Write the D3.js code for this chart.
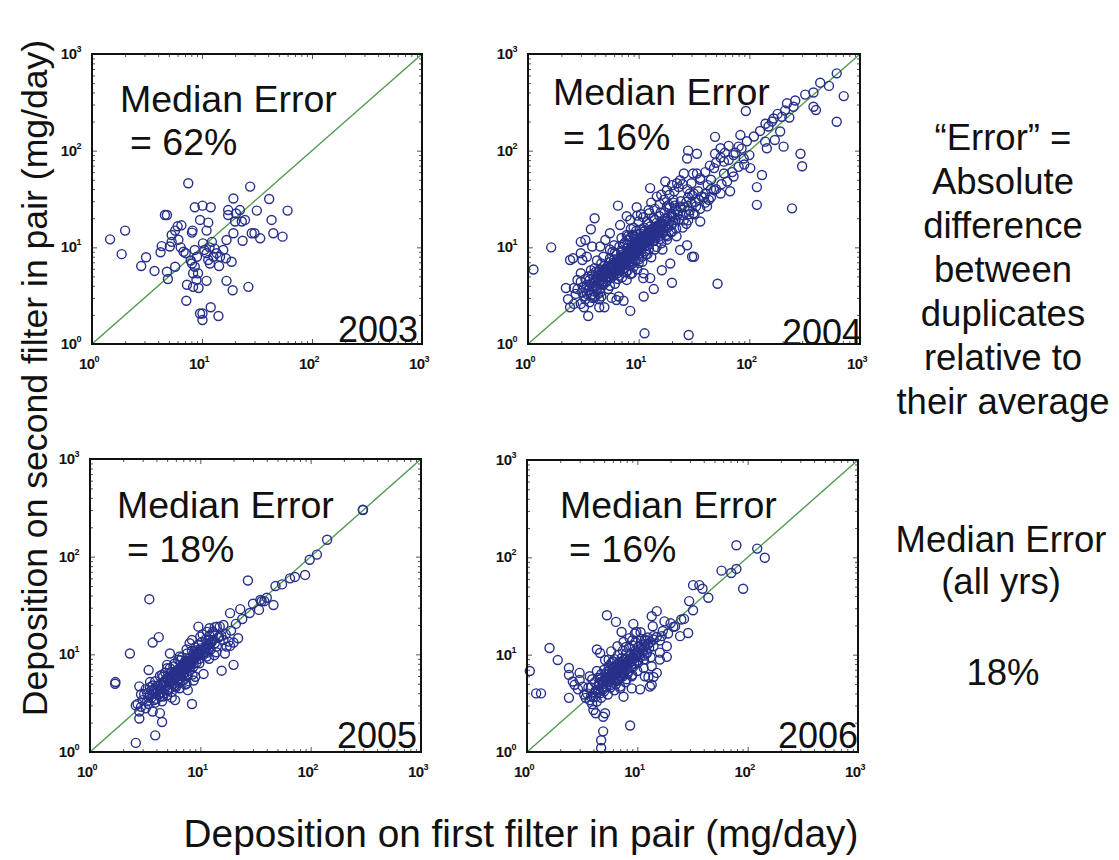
<!DOCTYPE html>
<html>
<head>
<meta charset="utf-8">
<script src="https://cdn.jsdelivr.net/npm/d3@7"></script>
<style>
  body { margin: 0; background: #fff; }
  text { font-family: "Liberation Sans", Arial, sans-serif; fill: #111; }
</style>
</head>
<body>
<svg id="chart" width="1119" height="860"></svg>
<script>
"use strict";

// ---- data (mg/day) ----
const years = ["2003", "2004", "2005", "2006"];
const medianErrors = ["62%", "16%", "18%", "16%"];
const majorTicks = [1, 10, 100, 1000];
const tickExponents = ["0", "1", "2", "3"];

const pts2003 = [
  [1.46,12.1],[2.0,14.9],[1.86,8.5],[2.8,6.4],[3.1,7.9],[3.7,5.7],[4.8,5.6],[4.9,4.7],[4.2,8.9],[4.3,10.3],
  [4.6,21.6],[4.8,21.6],[5.3,11.4],[5.7,14.9],[6.5,16.9],[6.0,16.5],[6.4,10],[6.8,9.0],[5.7,6.3],[7.5,46],
  [8.2,14.9],[8.6,26],[9.6,19.2],[10.1,27],[12,26],[11.4,18],[11,14.9],[8.1,14.2],[8.1,6.8],[8.6,6.3],
  [8.3,5.4],[8.9,4.6],[7.3,4.1],[7.2,2.8],[8.3,3.9],[9.3,3.8],[11,4.5],[9.6,2.07],[10.1,1.77],[10.1,2.07],
  [12,2.4],[14.1,1.95],[10.2,11],[10.5,9.4],[11,8.7],[11.7,10],[12.3,11.4],[12.7,8],[11.8,6.8],[11.4,7.4],
  [13,9.7],[13.6,8.7],[14.6,8],[14.3,6.4],[15.6,9.4],[16.7,11.9],[16.5,7.7],[18.6,7.1],[16.7,4.5],[19,3.6],
  [17.3,21.6],[17.3,24.3],[19.3,32],[20.4,22.4],[22.1,24.3],[20,18.5],[23,18.5],[24.6,19.2],[27.4,42.5],[23.4,11.7],
  [28.3,14],[26.4,3.9],[31.5,24],[30,14],[33.8,12.4],[40.8,31.6],[42.9,19.2],[44.5,14],[54,12.9],[60,24],
  [7.1,8.7],[5.3,13.4],[6.1,12],[5.1,10.2],[8.6,9.4],[9.0,8],[7.9,7.3],[9.2,5.4],[19.3,14]
];

const pts2004 = [
  // outliers and upper tail
  [1.12,5.9],[1.62,10],[2.2,3.8],[2.3,2.9],[2.4,2.4],[2.4,7.4],[2.55,7.7],[3.0,5.4],[3.0,11.4],[3.5,1.95],
  [4.0,20],[3.7,15.4],[3.3,11.9],[4.4,2.4],[4.9,2.4],[6.3,2.85],[6.5,27],[7.8,21],[8.4,2.2],[7.3,2.8],
  [9.7,21.3],[11.3,1.29],[11,4.8],[11.1,3.1],[13.7,3.7],[12.7,41],[20,4.3],[28.3,1.24],[31.6,8],[27.4,10.5],
  [51.6,4.2],[17.4,48],[22.2,46],[27.4,83],[33.6,93],[49,93],[65,112],[83,145],[93,257],[117,27.5],
  [117,42],[102,66],[130,56],[144,106],[170,129],[190,158],[204,110],[243,25.3],[290,93],[300,69],
  [251,285],[380,400],[400,263],[437,505],[524,468],[616,631],[713,367],[616,199],[380,285],[219,309],
  [149,178],[166,215],[197,224],[139,124],[89,83],[80,110],[72,90],[59,77],[48,66],[59,58],
  [72,54],[55,106],[33.6,58],[36,50],[45,50],[48,39],[55,36],[67,38],[43,31],[39,33],
  [29,36],[28,100],[49,139],[31,58],
  // edge of the main cloud
  [3.0,8.7],[3.1,7.4],[3.4,8],[3.8,10.2],[3.7,5.8],[2.8,4.6],[2.6,3.8],[3.2,3.1],[4.0,3.0],[4.6,3.1],
  [5.7,3.0],[6.6,3.1],[7.8,4.6],[8.7,5.4],[11.1,5.4],[12.7,4.8],[16.2,5.8],[19.3,6.8],[23.7,9.4],[30.4,8.0],
  [18,39],[14.6,33.5],[12.3,24.3],[9.6,26],[8.4,19.2],[6.8,17],[5.5,14],[5.0,11.9],[4.5,10.2],[7.8,13.4],
  [23.7,49.5],[25.6,58],[18,26.5],[20.6,31],[23.7,26.5],[31.3,22.5],[36,18.5],[41.5,26.5],
  // upper and lower band around the 1:1 line
  [8.0,13.0],[9.0,16.0],[10.0,18.5],[11.0,20.5],[12.5,22.5],[14.0,25.0],[15.5,28.0],[17.0,31.0],[19.0,35.0],[21.0,38.0],
  [23.0,42.0],[25.0,45.0],[27.5,40.0],[30.0,46.0],[13.0,29.0],[16.0,35.0],[20.0,44.0],[10.5,22.0],[6.0,10.5],[7.0,12.5],
  [5.5,9.5],[8.5,15.5],[36.0,52.0],[40.0,60.0],[44.0,70.0],[50.0,75.0],[55.0,85.0],[60.0,95.0],[65.0,80.0],[75.0,95.0],
  [85.0,105.0],[95.0,125.0],[100.0,90.0],[110.0,140.0],[125.0,160.0],[140.0,190.0],[160.0,200.0],[180.0,240.0],[210.0,260.0],[230.0,220.0],
  [260.0,330.0],[320.0,380.0],
  [12.0,8.5],[14.0,9.5],[16.0,11.0],[18.0,12.0],[20.0,14.5],[22.0,13.0],[25.0,16.0],[28.0,19.0],[32.0,22.0],[36.0,25.0],
  [40.0,29.0],[45.0,33.0],[50.0,40.0],[56.0,45.0],[63.0,48.0],[70.0,60.0],[80.0,68.0],[90.0,72.0],[10.0,7.5],[8.0,5.8],
  [6.5,4.7],[5.5,4.0],[4.5,3.7],
  // dense core
  [3.1,3.4],[3.3,2.9],[3.4,4.1],[3.5,3.6],[3.6,4.6],[3.7,3.2],[3.8,5.2],[3.9,4.0],[3.2,3.9],[3.5,5.0],
  [3.0,4.4],[3.6,2.7],[3.9,3.5],[4.0,6.1],[4.1,4.7],[4.2,3.8],[4.3,5.5],[4.4,4.3],[4.5,3.4],[4.6,6.8],
  [4.7,5.0],[4.8,4.1],[4.9,5.8],[4.2,7.3],[4.4,2.9],[4.6,4.6],[4.8,8.0],[5.0,5.3],[5.1,4.4],[5.2,6.3],
  [5.3,3.7],[5.4,7.0],[5.5,5.6],[5.6,4.8],[5.7,6.6],[5.8,9.0],[5.9,5.1],[6.0,7.5],[6.1,4.2],[6.2,6.0],
  [6.3,8.4],[6.4,5.4],[6.5,7.1],[6.6,6.4],[6.7,10.2],[6.8,5.8],[6.9,7.9],[7.0,6.8],[7.1,4.9],[7.2,9.3],
  [7.3,7.4],[7.4,6.1],[7.5,11.2],[7.6,8.3],[7.7,5.5],[7.8,7.0],[7.9,9.8],[8.0,8.0],[8.1,6.5],[8.2,12.0],
  [8.3,7.6],[8.4,5.3],[8.5,9.2],[8.6,10.6],[8.7,7.2],[8.8,8.6],[8.9,13.5],[9.0,6.3],[9.1,9.9],[9.2,8.1],
  [9.3,11.4],[9.4,7.4],[9.5,14.8],[9.6,9.1],[9.7,5.9],[9.8,10.4],[9.9,12.6],[10.0,8.5],[10.2,11.0],[10.4,13.9],
  [10.6,9.4],[10.8,7.1],[11.0,12.1],[11.2,16.0],[11.4,10.3],[11.6,8.4],[11.8,13.2],[12.0,11.3],[12.2,17.5],[12.4,9.6],
  [12.6,14.4],[12.8,12.2],[13.0,7.9],[13.3,15.6],[13.6,11.6],[13.9,19.2],[14.2,13.1],[14.5,10.1],[14.8,16.8],[15.1,14.0],
  [15.4,21.0],[15.7,12.2],[16.0,17.7],[16.4,9.5],[16.8,15.1],[17.2,23.0],[17.6,13.4],[18.0,19.0],[18.5,16.2],[19.0,25.5],
  [19.5,14.3],[20.0,21.1],[20.6,18.0],[21.2,27.0],[21.8,15.6],[22.5,23.5],[23.2,19.5],[24.0,30.0],[25.0,21.5],[26.0,26.0],
  [27.0,17.5],[28.0,33.0],[29.0,24.0],[30.0,28.5],[31.5,36.0],[33.0,26.5],[35.0,31.0],
  [5.0,6.0],[5.3,5.0],[5.6,6.2],[5.9,6.9],[6.2,5.6],[6.5,6.3],[6.8,7.6],[7.1,6.4],[7.4,8.0],[7.7,7.3],
  [8.0,9.1],[8.3,8.8],[8.6,8.0],[8.9,9.6],[9.2,10.8],[9.5,8.7],[9.8,11.6],[10.1,10.0],[10.5,10.9],[10.9,11.8],
  [11.3,11.0],[11.7,12.8],[12.1,13.7],[12.5,11.9],[12.9,14.9],[13.4,13.8],[13.9,15.0],[14.4,14.6],[14.9,16.2],[15.5,15.8],
  [16.1,16.6],[16.8,18.3],[17.5,17.0],[18.2,20.2],[19.0,18.6],[19.8,22.0],[20.7,20.4],[21.6,24.2],[4.5,5.1],[4.7,4.3],
  [4.9,6.4],[5.2,4.6],[5.5,7.7],[5.8,5.6],[6.1,8.8],[6.4,6.9],[6.7,5.1],[7.0,8.9],[7.3,10.7],[7.6,6.9],
  [7.9,11.9],[8.2,7.0],[8.5,12.8],[8.8,6.8],[9.1,12.9],[9.4,9.4],[9.7,13.6],[10.0,6.9],[10.3,15.2],[10.7,8.0],
  [11.1,14.6],[11.5,9.1],[11.9,18.3],[12.3,10.6],[12.7,16.4],[13.1,12.4],[13.6,20.0],[14.0,11.9],[14.6,18.0],[15.2,12.9],
  [15.8,22.8],[16.5,14.0],[17.2,19.8],[18.0,13.0],[18.8,27.5],[19.7,17.0],[20.6,29.0],[21.6,19.2],[22.7,21.8],[24.0,25.8],
  [25.5,19.0],[27.0,29.5],[28.5,22.0],[30.5,34.5],[32.5,29.5],[34.5,38.0],[37.0,33.5],[40.0,36.0],[42.0,44.0],[45.0,40.0],
  [3.3,4.7],[3.8,3.0],[4.1,5.6],[4.3,3.3],[3.4,3.3],[3.7,4.2],[4.0,3.1],[2.7,3.3],[2.8,3.7],[3.0,2.6],
  [2.6,2.6],[3.2,2.4],
  [4.2,4.9],[4.5,5.9],[4.8,4.9],[5.1,5.8],[5.4,6.1],[5.7,5.3],[6.0,6.6],[6.3,5.9],[6.6,7.2],[6.9,6.2],
  [7.2,7.8],[7.5,7.6],[7.8,8.5],[8.1,8.4],[8.4,8.1],[8.7,9.4],[9.0,9.0],[9.3,9.8],[9.6,10.4],[9.9,9.4],
  [10.3,11.5],[10.7,10.4],[11.1,12.5],[11.5,11.7],[11.9,13.0],[12.3,12.4],[12.8,13.9],[13.3,12.9],[13.8,14.4],[14.3,15.8],
  [14.8,14.2],[15.4,17.0],[16.0,15.3],[16.7,17.5],[17.4,16.0],[3.6,3.9],[3.9,4.4],[4.2,4.0],[4.5,4.5],[4.8,5.4],
  [5.1,5.0],[5.4,5.5],[5.7,6.0],[6.0,5.8],[6.3,6.5],[6.6,6.0],[6.9,7.4],[7.2,7.0],[7.5,8.2],[7.8,7.6],
  [8.1,8.9],[8.4,8.6],[8.7,9.9],[9.0,8.5],[9.3,10.2],[9.6,9.8],[10.0,11.2],[10.4,10.0],[10.8,12.0],[11.2,11.4],
  [11.6,13.5],[12.0,12.5],[12.5,14.6],[13.0,13.1],[13.5,15.2],[4.0,4.5],[4.3,4.8],[4.6,5.5],[4.9,5.1],[5.2,5.6],
  [5.5,5.0],[5.8,6.4],[6.1,6.1],[6.4,6.6],[6.7,7.0],[7.0,7.5],[7.3,7.1],[7.6,7.9],[7.9,8.2],[8.2,8.9],
  [8.5,8.4],[8.8,9.2],[9.1,9.6],[9.4,10.0],[9.7,10.8],[10.1,10.5],[10.5,11.4],[10.9,11.0],[11.4,12.2],[11.9,11.8],
  [12.4,13.0],[12.9,13.6],[13.5,14.0],[14.1,14.9],[14.7,15.5]
];

const pts2005 = [
  [1.69,5.0],[1.7,5.2],[2.3,10.2],[2.6,1.24],[2.8,2.2],[2.6,3.0],[2.8,4.7],[3.45,36.7],[3.5,5.2],[3.4,6.9],
  [3.7,13.2],[4.2,15],[3.9,1.48],[4.5,2.03],[4.3,2.5],[3.8,3.4],[4.3,3.7],[5.0,4.3],[4.6,5.9],[5.3,10.2],
  [5.7,7.5],[5.0,7.2],[5.9,4.7],[5.9,3.4],[6.8,5.4],[6.6,8.7],[7.0,6.3],[7.5,7.2],[8.1,8.7],[8.4,3.1],
  [7.7,4.3],[8.7,5.4],[9.0,5.9],[8.7,10.2],[8.4,14],[9.6,19.2],[10,15.2],[9.3,10.2],[9.8,8.1],[10.7,6.3],
  [11.4,9.5],[11.1,10.6],[11.8,14],[12.1,18.5],[13.1,16.4],[14.1,19.2],[15,19.2],[14.8,15.2],[14.1,12],[13.4,9.8],
  [16.2,14],[15.6,6.8],[16.7,10.2],[17.3,12],[18.6,12.2],[20,13.2],[22,14.6],[18,13.5],[20,7.8],[16.2,20],
  [18.6,26.4],[23,29],[27,57],[35,36],[36,35],[34,28.5],[38,35],[46,32],[48,50],[72,62],
  [89,65],[98,93],[114,105],[141,149],[297,302],[298,300],
  [3.0,3.4],[3.2,2.8],[3.3,4.0],[3.4,3.1],[3.5,4.6],[3.6,3.6],[3.7,2.6],[3.8,4.2],[3.9,5.3],[4.0,3.5],
  [4.1,4.8],[4.2,3.9],[4.3,6.0],[4.4,4.4],[4.5,3.3],[4.6,5.2],[4.7,4.0],[4.8,6.5],[4.9,4.7],[5.0,3.8],
  [5.1,5.7],[5.2,4.4],[5.3,7.2],[5.4,5.1],[5.5,4.1],[5.6,6.2],[5.7,5.0],[5.8,8.0],[5.9,5.7],[6.0,4.6],
  [6.1,6.8],[6.2,5.5],[6.3,8.8],[6.4,6.3],[6.5,5.1],[6.6,7.4],[6.7,6.0],[6.8,9.3],[6.9,6.7],[7.0,5.4],
  [7.1,7.9],[7.2,6.5],[7.3,4.9],[7.4,8.5],[7.5,7.1],[7.6,10.2],[7.7,6.0],[7.8,7.7],[7.9,9.0],[8.0,6.8],
  [8.2,8.2],[8.4,10.8],[8.6,7.4],[8.8,9.5],[9.0,11.8],[9.2,8.2],[9.4,10.1],[9.6,12.6],[9.8,9.0],[10.0,10.9],
  [10.3,13.4],[10.6,9.8],[10.9,11.6],[11.2,14.2],[11.5,10.4],[11.8,12.4],[12.1,15.6],[12.4,11.2],[12.7,13.4],[13.0,17.0],
  [3.4,3.6],[3.6,4.3],[3.9,3.2],[4.1,4.2],[4.4,5.0],[4.6,3.7],[4.9,5.6],[5.1,4.2],[5.3,5.4],[5.5,6.6],
  [5.8,4.8],[6.0,6.0],[6.3,7.0],[6.6,5.6],[6.9,7.2],[7.2,8.3],[7.5,6.2],[7.8,8.6],[8.1,7.5],[8.4,9.0],
  [8.7,8.0],[9.0,9.6],[9.3,11.0],[9.7,10.0],[10.1,11.5],[10.5,10.3],[2.9,2.9],[3.1,3.9],[2.7,3.1],
  [3.5,3.9],[3.8,4.0],[4.0,4.4],[4.2,4.7],[4.4,4.1],[4.6,4.9],[4.8,5.1],[5.0,5.5],[5.2,5.0],[5.4,5.8],
  [5.6,5.4],[5.8,6.1],[6.0,6.5],[6.2,6.0],[6.4,7.0],[6.6,6.6],[6.8,7.0],[7.0,7.5],[7.2,7.3],[7.4,7.8],
  [7.6,7.6],[7.8,8.2],[8.0,8.0],[8.3,8.6],[8.6,8.7],[8.9,9.2],[9.2,9.4],[9.5,10.5],[9.9,10.3],[10.3,10.8],
  [10.8,11.2],[11.3,11.8],[11.8,12.9],[12.3,13.0],[12.9,14.0],[13.5,13.0],[14.5,14.8],[15.5,15.5],[5.5,3.6],[6.5,4.5],
  [7.5,5.0],[8.5,6.2],[4.5,6.2],[5.0,7.8],[6.5,9.5],[7.5,11.2],[8.0,13.0],[10.5,16.0],[11.5,17.0],[13.5,19.0],
  [12.0,9.0],[14.0,10.5],[17.0,16.0],[19.0,17.5],[21.0,20.5],[24.0,23.0],[28.0,26.5],[30.0,33.0],[40.0,38.0],[55.0,52.0],
  [65.0,60.0],[2.9,3.9],[3.2,4.4],[2.8,2.6],[3.3,3.3],[3.7,4.8]
];

const pts2006 = [
  [1.06,6.8],[1.21,4.0],[1.34,4.0],[1.6,11.7],[1.9,8.8],[2.4,7.3],[2.4,3.6],[2.6,5.3],[2.7,4.9],[2.9,4.4],
  [3.0,6.5],[3.4,3.6],[4.2,2.5],[4.0,2.7],[4.9,2.3],[5.1,2.5],[4.9,1.63],[4.7,1.32],[4.7,1.1],[8.6,1.87],
  [5.3,25.4],[6.4,21.7],[7.2,17.1],[9.2,20.7],[9.8,17.1],[11.7,14.3],[13.8,19.6],[15,28],[13.5,24.8],[17.6,22],
  [21.2,19.3],[24.4,15.5],[26.5,23.3],[28.9,16.7],[29.5,35.5],[32,28.6],[32,51.8],[36.5,51.8],[39,47.5],[44,38.4],
  [58,73],[71,69],[79,76],[91,47.5],[79,133],[122,123],[143,99],[18.5,12.2],[16,10.5],[13.5,7.6],
  [13.5,4.9],[11.7,6.0],[10.6,4.4],[8.9,6.0],[7.5,3.7],[7.0,4.7],
  [2.4,6.2],[3.0,5.5],[3.2,4.7],[3.7,6.0],[4.2,3.7],[4.3,11.3],[4.6,10.4],[5.5,8.9],[6.1,7.3],[8.0,8.9],
  [8.9,4.5],[13,4.7],[12.6,5.9],[14,5.9],[15,6.5],[16,8.9],[18.5,9.5],[16.6,15.5],[14,12.2],[12.2,10.4],
  [14,15.5],
  [3.5,4.0],[3.7,3.4],[3.8,4.6],[4.0,3.7],[4.1,5.2],[4.2,4.3],[4.3,3.3],[4.4,5.8],[4.5,4.8],[4.6,4.0],
  [4.7,6.3],[4.8,5.3],[4.9,4.4],[5.0,7.0],[5.1,5.8],[5.2,4.7],[5.3,6.6],[5.4,5.2],[5.5,7.6],[5.6,6.0],
  [5.7,4.6],[5.8,8.2],[5.9,6.5],[6.0,5.5],[6.1,7.2],[6.2,9.0],[6.3,6.1],[6.4,5.0],[6.5,7.8],[6.6,6.8],
  [6.7,10.0],[6.8,5.6],[6.9,8.4],[7.0,7.1],[7.1,6.0],[7.2,9.2],[7.3,7.6],[7.4,11.0],[7.5,6.4],[7.6,8.9],
  [7.7,7.9],[7.8,5.2],[7.9,10.3],[8.0,8.3],[8.2,6.7],[8.4,11.8],[8.6,9.1],[8.8,7.4],[9.0,12.5],[9.2,9.6],
  [9.4,8.0],[9.6,13.4],[9.8,10.4],[10.0,8.7],[10.3,12.0],[10.6,9.5],[10.9,14.5],[11.2,11.0],[11.5,8.9],[11.8,12.9],
  [12.1,10.3],[12.4,15.0],[12.8,11.8],[13.2,9.4],[3.9,5.6],[4.3,6.8],[4.7,3.6],[5.1,8.8],[5.4,3.9],[5.8,10.8],
  [6.2,4.3],[6.6,12.2],[7.0,4.5],[7.5,13.5],[8.0,5.6],[8.5,14.8],[9.0,6.2],[9.5,16.5],[10.0,6.8],[10.7,17.0],
  [11.4,7.3],[12.0,13.8],[4.4,4.1],[4.9,5.0],[5.3,5.9],[5.7,5.4],[6.1,6.3],[6.5,5.8],[6.9,6.9],[7.3,6.6],
  [7.7,7.4],[8.1,7.1],[8.5,8.2],[8.9,8.6],[9.3,9.1],[9.9,9.6],[10.5,10.1],
  [4.5,5.0],[4.8,4.6],[5.0,5.3],[5.2,5.5],[5.5,5.3],[5.7,6.0],[5.9,5.8],[6.1,6.6],[6.3,6.4],[6.5,6.9],
  [6.7,6.5],[6.9,7.5],[7.1,7.1],[7.3,7.9],[7.5,7.6],[7.8,8.0],[8.0,7.8],[8.3,8.7],[8.6,8.5],[8.9,9.3],
  [9.2,9.0],[9.5,9.9],[9.9,10.4],[10.3,10.6],[10.8,11.5],[11.3,11.3],[11.8,12.2],[12.5,12.8],[13.2,13.5],[14.0,14.3],
  [15.0,15.2],[16.0,14.0],[17.0,17.5],[19.0,16.5],[20.0,21.0],[22.0,19.5],[25.0,23.0],[3.8,3.7],[4.1,4.1],[4.4,4.4],
  [4.6,5.6],[5.0,4.2],[5.4,6.3],[5.8,4.9],[6.2,7.5],[6.6,5.4],[7.0,8.2],[7.4,6.0],[7.8,9.2],[8.2,6.4],
  [8.6,10.0],[9.1,7.4],[9.6,11.0],[10.2,8.3],[10.9,12.6],[11.6,9.8],[5.6,7.0],[6.0,8.5],[7.9,12.0],[9.0,14.0],
  [3.6,4.6],[3.3,3.9],[3.9,3.1]
];

const seriesByYear = [pts2003, pts2004, pts2005, pts2006];

const noteLines = ["\u201CError\u201D =", "Absolute", "difference", "between", "duplicates", "relative to", "their average"];
const overallLines = ["Median Error", "(all yrs)"];
const overallValue = "18%";
const xTitle = "Deposition on first filter in pair (mg/day)";
const yTitle = "Deposition on second filter in pair (mg/day)";

// ---- layout (pixels) ----
const panels = [
  { left: 92,  top: 54,  w: 330, h: 290, textX: 28, textY: 58,  eqX: 38, eqY: 101, yearX: 326, yearY: 288 },
  { left: 528, top: 54,  w: 332, h: 290, textX: 25, textY: 51,  eqX: 35, eqY: 96,  yearX: 334, yearY: 291 },
  { left: 90,  top: 459, w: 331, h: 293, textX: 27, textY: 59,  eqX: 37, eqY: 103, yearX: 327, yearY: 289 },
  { left: 527, top: 460, w: 331, h: 292, textX: 33, textY: 58,  eqX: 42, eqY: 102, yearX: 331, yearY: 288 }
];

const markColor = "#27308a";
const lineColor = "#4f9a4f";
const bigFont = 37.5;
const sideFont = 36.5;

const svg = d3.select("#chart");

panels.forEach((p, i) => {
  const g = svg.append("g").attr("transform", "translate(" + p.left + "," + p.top + ")");

  const x = d3.scaleLog().domain([1, 1000]).range([0, p.w]);
  const y = d3.scaleLog().domain([1, 1000]).range([p.h, 0]);

  // inward ticks on all four sides (minor + major)
  const tv = x.ticks();
  const isMajor = d => Math.abs(Math.log10(d) - Math.round(Math.log10(d))) < 1e-9;
  const tickAxis = (axis, tr, attr, sign) => {
    const a = g.append("g").attr("transform", tr)
      .call(axis.tickValues(tv).tickFormat("").tickSizeOuter(0).tickSizeInner(0));
    a.select(".domain").remove();
    a.selectAll(".tick line")
      .attr("stroke", "#555")
      .attr("stroke-width", 1)
      .attr(attr, d => sign * (isMajor(d) ? 5 : 3));
  };
  tickAxis(d3.axisBottom(x), "translate(0," + p.h + ")", "y2", -1);
  tickAxis(d3.axisTop(x), "translate(0,0)", "y2", 1);
  tickAxis(d3.axisLeft(y), "translate(0,0)", "x2", 1);
  tickAxis(d3.axisRight(y), "translate(" + p.w + ",0)", "x2", -1);

  // 1:1 line
  g.append("line")
    .attr("x1", x(1)).attr("y1", y(1))
    .attr("x2", x(1000)).attr("y2", y(1000))
    .attr("stroke", lineColor).attr("stroke-width", 1.4);

  // points
  g.append("g").selectAll("circle")
    .data(seriesByYear[i])
    .join("circle")
      .attr("cx", d => x(d[0]))
      .attr("cy", d => y(d[1]))
      .attr("r", 4.5)
      .attr("fill", "none")
      .attr("stroke", markColor)
      .attr("stroke-width", 1.4);

  // frame
  g.append("rect")
    .attr("width", p.w).attr("height", p.h)
    .attr("fill", "none").attr("stroke", "#111").attr("stroke-width", 2);

  // tick labels 10^k
  const addPow = (sel, k) => {
    sel.append("tspan").text("10");
    sel.append("tspan").attr("dy", -7).attr("font-size", 9).text(tickExponents[k]);
  };
  majorTicks.forEach((v, k) => {
    const ty = g.append("text")
      .attr("x", -11).attr("y", y(v) + 5)
      .attr("text-anchor", "end")
      .attr("font-size", 15).attr("font-weight", "bold")
      .attr("letter-spacing", -0.5);
    addPow(ty, k);
    const tx = g.append("text")
      .attr("x", x(v) - 3).attr("y", p.h + 25)
      .attr("text-anchor", "middle")
      .attr("font-size", 15).attr("font-weight", "bold")
      .attr("letter-spacing", -0.5);
    addPow(tx, k);
  });

  // annotations
  g.append("text").attr("x", p.textX).attr("y", p.textY)
    .attr("font-size", bigFont).text("Median Error");
  g.append("text").attr("x", p.eqX).attr("y", p.eqY)
    .attr("font-size", bigFont).text("= " + medianErrors[i]);
  g.append("text").attr("x", p.yearX).attr("y", p.yearY)
    .attr("text-anchor", "end")
    .attr("font-size", 36).text(years[i]);
});

// axis titles
svg.append("text")
  .attr("x", 521).attr("y", 847)
  .attr("text-anchor", "middle")
  .attr("font-size", 38.8)
  .text(xTitle);

svg.append("text")
  .attr("transform", "translate(47,378) rotate(-90)")
  .attr("text-anchor", "middle")
  .attr("font-size", 35.6)
  .text(yTitle);

// side notes
svg.append("g").selectAll("text")
  .data(noteLines)
  .join("text")
    .attr("x", 1003)
    .attr("y", (d, k) => 150 + k * 44)
    .attr("text-anchor", "middle")
    .attr("font-size", sideFont)
    .text(d => d);

svg.append("g").selectAll("text")
  .data(overallLines)
  .join("text")
    .attr("x", 1001)
    .attr("y", (d, k) => 552 + k * 42)
    .attr("text-anchor", "middle")
    .attr("font-size", sideFont)
    .text(d => d);

svg.append("text")
  .attr("x", 1003).attr("y", 685)
  .attr("text-anchor", "middle")
  .attr("font-size", sideFont)
  .text(overallValue);
</script>
</body>
</html>
